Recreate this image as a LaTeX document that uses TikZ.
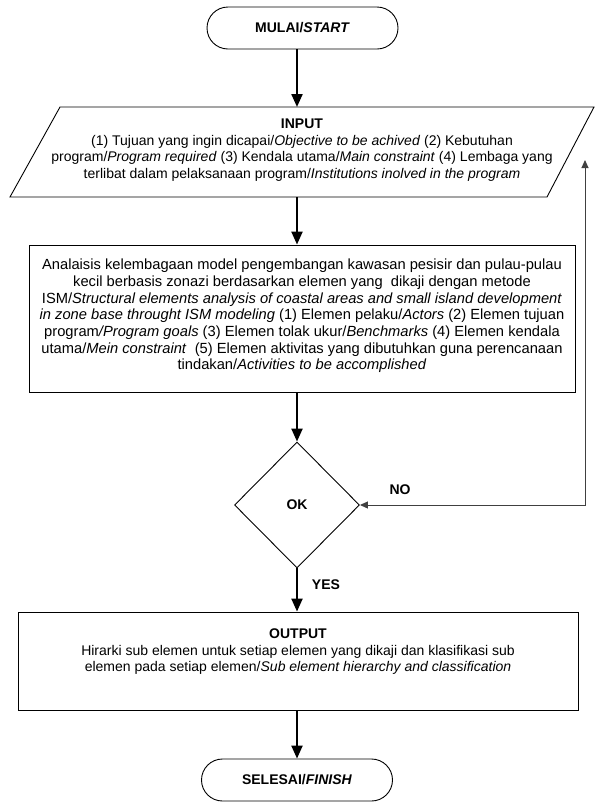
\documentclass[tikz,border=0pt]{standalone}
\usepackage{fontspec}
\setmainfont{Liberation Sans}
\usetikzlibrary{shapes.geometric,arrows.meta}
\begin{document}
\begin{tikzpicture}[x=1pt,y=-1pt,
  every node/.style={font=\fontsize{14}{16.5}\selectfont, inner sep=0pt},
  term/.style={draw, rectangle, rounded corners=21pt, minimum width=191pt, minimum height=42pt, line width=0.9pt, font=\fontsize{14}{16.5}\selectfont\bfseries},
  box/.style={draw, rectangle, line width=0.9pt},
  txt/.style={align=center},
  bigtxt/.style={align=center, font=\fontsize{14.7}{16.7}\selectfont},
  arr/.style={line width=2.2pt, -{Triangle[width=11pt,length=13pt]}},
  farr/.style={line width=1pt, draw=black!75, {Triangle[width=7pt,length=8pt]}-{Triangle[width=7pt,length=8pt]}},
  lbl/.style={font=\fontsize{14}{16.5}\selectfont\bfseries}
]
\useasboundingbox (0,0) rectangle (596,804);
\fill[white] (0,0) rectangle (596,804);

% start
\node[term] (start) at (302.5,28) {MULAI/\textit{START}};

% input parallelogram
\coordinate (inTL) at (60,107);
\coordinate (inTR) at (594,107);
\coordinate (inBR) at (547,197);
\coordinate (inBL) at (10,197);
\draw[line width=0.9pt] (inTL) -- (inTR) -- (inBR) -- (inBL) -- cycle;
\coordinate (inTop) at (297,107);
\coordinate (inBot) at (297,197);
\node[txt] (intxt) at (302,150) {\textbf{INPUT}\\
(1) Tujuan yang ingin dicapai/\textit{Objective to be achived} (2) Kebutuhan\\
program/\textit{Program required} (3) Kendala utama/\textit{Main constraint} (4) Lembaga yang\\
terlibat dalam pelaksanaan program/\textit{Institutions inolved in the program}};

% process
\node[box, minimum width=546pt, minimum height=147pt] (proc) at (302,318.5) {};
\node[bigtxt] (proctxt) at (302,316) {Analaisis kelembagaan model pengembangan kawasan pesisir dan pulau-pulau\\
kecil berbasis zonazi berdasarkan elemen yang\ \ dikaji dengan metode\\
ISM/\textit{Structural elements analysis of coastal areas and small island development}\\
\textit{in zone base throught ISM modeling} (1) Elemen pelaku/\textit{Actors} (2) Elemen tujuan\\
program\textit{/Program goals} (3) Elemen tolak ukur/\textit{Benchmarks} (4) Elemen kendala\\
utama/\textit{Mein constraint}\ \ (5) Elemen aktivitas yang dibutuhkan guna perencanaan\\
tindakan/\textit{Activities to be accomplished}};

% decision
\node[draw, diamond, aspect=1, minimum width=125pt, minimum height=126pt, line width=0.9pt, lbl] (dia) at (297,505) {OK};
\node[lbl] (no) at (400,490) {NO};
\node[lbl] (yes) at (326,585) {YES};

% output
\node[box, minimum width=560pt, minimum height=98pt] (out) at (298,661) {};
\node[txt] (outtxt) at (298,652) {\textbf{OUTPUT}\\
Hirarki sub elemen untuk setiap elemen yang dikaji dan klasifikasi sub\\
elemen pada setiap elemen/\textit{Sub element hierarchy and classification}};

% finish
\node[term] (fin) at (297,780) {SELESAI/\textit{FINISH}};

% connectors
\draw[arr] (inTop |- start.south) -- (inTop);
\draw[arr] (inBot) -- (inBot |- proc.north);
\draw[arr] (dia.north |- proc.south) -- (dia.north);
\draw[arr] (dia.south) -- (dia.south |- out.north);
\draw[arr] (fin.north |- out.south) -- (fin.north);
\coordinate (fbTop) at (585,160);
\draw[farr] (dia.east) -- (dia.east -| fbTop) -- (fbTop);
\end{tikzpicture}
\end{document}
